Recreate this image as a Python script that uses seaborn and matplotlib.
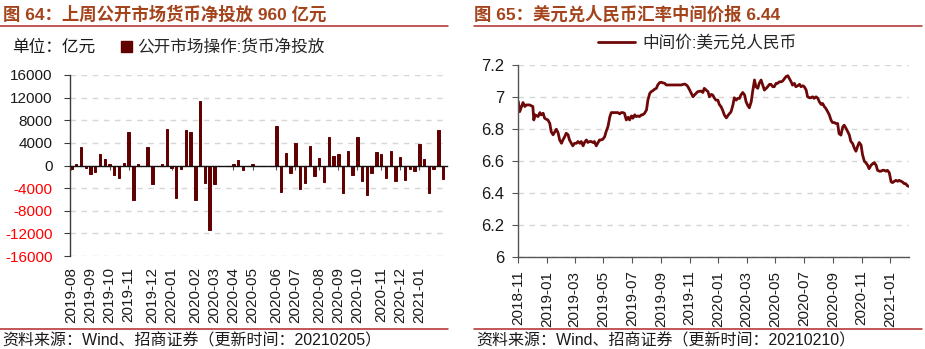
import matplotlib
matplotlib.use("Agg")
import matplotlib.pyplot as plt
import matplotlib.dates as mdates
from matplotlib.lines import Line2D
from matplotlib.patches import Patch
import pandas as pd
import seaborn as sns

sns.set_theme(style="white")
plt.rcParams["font.family"] = ["Liberation Sans", "Noto Sans CJK SC"]
plt.rcParams["axes.unicode_minus"] = False

# ---------------- data: weekly open-market net injection (亿元) ----------------
week_first = "2019-08-09"
week_last = "2021-02-05"
net_injection = [
    -700, 300, 3200, -500, -1500, -1200, 2050, 1100, 350, -1650,
    -2200, 450, 5900, -6050, 250, 0, 3200, -3200, 0, 250,
    6500, -500, -5700, -600, 6250, 5950, -6150, 11450, -3050, -11400,
    -3200, 0, 0, 0, 250, 900, -800, 0, 250, 0,
    0, 0, 0, 6900, -4650, 2200, -1350, 4050, -4100, -3050,
    3500, -1800, 1300, -2900, 5100, 1750, 2100, -4950, 2500, -1600,
    5000, -2700, -5300, -1300, 2400, 2100, -2200, 2500, -2700, 1500,
    -2500, -700, -1050, 3800, 1100, -4800, -600, 6250, -2450,
]
bar_month_labels = [
    "2019-08", "2019-09", "2019-10", "2019-11", "2019-12", "2020-01",
    "2020-02", "2020-03", "2020-04", "2020-05", "2020-06", "2020-07",
    "2020-08", "2020-09", "2020-10", "2020-11", "2020-12", "2021-01",
]
bar_yticks = [-16000, -12000, -8000, -4000, 0, 4000, 8000, 12000, 16000]

# ---------------- data: USD/CNY central parity ----------------
fx_dates = [
    "2018-11-01", "2018-11-04", "2018-11-08", "2018-11-11", "2018-11-15", "2018-11-18",
    "2018-11-25", "2018-12-02", "2018-12-04", "2018-12-07", "2018-12-13", "2018-12-17",
    "2018-12-20", "2018-12-24", "2018-12-27", "2018-12-31", "2019-01-03", "2019-01-07",
    "2019-01-10", "2019-01-14", "2019-01-18", "2019-01-21", "2019-01-25", "2019-01-28",
    "2019-02-01", "2019-02-04", "2019-02-08", "2019-02-11", "2019-02-15", "2019-02-18",
    "2019-02-22", "2019-02-25", "2019-03-01", "2019-03-05", "2019-03-08", "2019-03-12",
    "2019-03-15", "2019-03-19", "2019-03-22", "2019-03-26", "2019-03-29", "2019-04-02",
    "2019-04-05", "2019-04-09", "2019-04-12", "2019-04-16", "2019-04-19", "2019-04-23",
    "2019-04-26", "2019-04-30", "2019-05-04", "2019-05-07", "2019-05-11", "2019-05-15",
    "2019-05-18", "2019-05-25", "2019-06-01", "2019-06-05", "2019-06-08", "2019-06-12",
    "2019-06-15", "2019-06-19", "2019-06-23", "2019-06-26", "2019-06-30", "2019-07-03",
    "2019-07-07", "2019-07-10", "2019-07-14", "2019-07-17", "2019-07-21", "2019-07-24",
    "2019-07-28", "2019-08-01", "2019-08-04", "2019-08-08", "2019-08-11", "2019-08-15",
    "2019-08-18", "2019-08-22", "2019-08-25", "2019-08-29", "2019-09-01", "2019-09-09",
    "2019-09-12", "2019-09-23", "2019-10-03", "2019-10-14", "2019-10-21", "2019-10-25",
    "2019-10-28", "2019-11-01", "2019-11-08", "2019-11-11", "2019-11-18", "2019-11-25",
    "2019-11-29", "2019-12-02", "2019-12-06", "2019-12-10", "2019-12-13", "2019-12-17",
    "2019-12-20", "2019-12-24", "2019-12-27", "2019-12-31", "2020-01-03", "2020-01-07",
    "2020-01-10", "2020-01-14", "2020-01-18", "2020-01-21", "2020-01-25", "2020-01-28",
    "2020-02-01", "2020-02-04", "2020-02-08", "2020-02-11", "2020-02-15", "2020-02-18",
    "2020-02-22", "2020-02-26", "2020-02-29", "2020-03-04", "2020-03-07", "2020-03-11",
    "2020-03-14", "2020-03-18", "2020-03-21", "2020-03-25", "2020-03-28", "2020-04-01",
    "2020-04-05", "2020-04-08", "2020-04-12", "2020-04-15", "2020-04-19", "2020-04-22",
    "2020-04-26", "2020-04-29", "2020-05-03", "2020-05-06", "2020-05-10", "2020-05-14",
    "2020-05-17", "2020-05-21", "2020-05-24", "2020-05-28", "2020-05-31", "2020-06-04",
    "2020-06-07", "2020-06-11", "2020-06-14", "2020-06-18", "2020-06-22", "2020-06-25",
    "2020-06-29", "2020-07-02", "2020-07-06", "2020-07-09", "2020-07-13", "2020-07-16",
    "2020-07-20", "2020-07-23", "2020-07-27", "2020-07-31", "2020-08-03", "2020-08-07",
    "2020-08-10", "2020-08-14", "2020-08-17", "2020-08-21", "2020-08-24", "2020-08-28",
    "2020-08-31", "2020-09-04", "2020-09-07", "2020-09-11", "2020-09-14", "2020-09-18",
    "2020-09-22", "2020-09-25", "2020-09-29", "2020-10-02", "2020-10-06", "2020-10-09",
    "2020-10-13", "2020-10-17", "2020-10-20", "2020-10-24", "2020-10-27", "2020-10-31",
    "2020-11-03", "2020-11-07", "2020-11-10", "2020-11-14", "2020-11-17", "2020-11-21",
    "2020-11-25", "2020-11-28", "2020-12-02", "2020-12-05", "2020-12-09", "2020-12-12",
    "2020-12-16", "2020-12-19", "2020-12-23", "2020-12-26", "2020-12-30", "2021-01-03",
    "2021-01-06", "2021-01-10", "2021-01-13", "2021-01-17", "2021-01-20", "2021-01-24",
    "2021-01-27", "2021-01-31", "2021-02-03", "2021-02-07", "2021-02-10",
]
fx_mid = [
    6.971, 6.908, 6.940, 6.965, 6.940, 6.950,
    6.950, 6.940, 6.856, 6.888, 6.877, 6.902,
    6.888, 6.898, 6.867, 6.860, 6.856, 6.835,
    6.783, 6.763, 6.783, 6.798, 6.773, 6.731,
    6.710, 6.731, 6.752, 6.773, 6.763, 6.731,
    6.710, 6.694, 6.710, 6.710, 6.721, 6.710,
    6.721, 6.694, 6.715, 6.731, 6.715, 6.721,
    6.721, 6.715, 6.721, 6.694, 6.710, 6.731,
    6.731, 6.735, 6.752, 6.783, 6.815, 6.877,
    6.902, 6.902, 6.902, 6.894, 6.902, 6.902,
    6.898, 6.856, 6.873, 6.856, 6.881, 6.867,
    6.888, 6.877, 6.881, 6.877, 6.888, 6.888,
    6.898, 6.919, 6.981, 7.023, 7.033, 7.040,
    7.048, 7.054, 7.075, 7.090, 7.092, 7.085,
    7.075, 7.075, 7.075, 7.075, 7.081, 7.075,
    7.065, 7.043, 7.001, 7.012, 7.033, 7.037,
    7.028, 7.054, 7.043, 7.033, 7.001, 7.016,
    7.012, 6.991, 6.980, 6.980, 6.953, 6.938,
    6.918, 6.886, 6.869, 6.882, 6.897, 6.907,
    6.949, 6.995, 6.980, 6.991, 6.991, 7.012,
    7.028, 7.012, 6.970, 6.945, 6.932, 6.970,
    7.033, 7.106, 7.064, 7.054, 7.085, 7.106,
    7.070, 7.043, 7.054, 7.064, 7.079, 7.079,
    7.064, 7.064, 7.085, 7.085, 7.095, 7.095,
    7.100, 7.116, 7.127, 7.133, 7.116, 7.095,
    7.074, 7.085, 7.064, 7.070, 7.079, 7.064,
    7.070, 7.064, 7.043, 7.001, 6.995, 6.995,
    7.001, 6.991, 7.001, 6.991, 6.970, 6.953,
    6.959, 6.938, 6.928, 6.907, 6.890, 6.855,
    6.840, 6.840, 6.834, 6.834, 6.771, 6.761,
    6.813, 6.823, 6.803, 6.786, 6.761, 6.723,
    6.708, 6.677, 6.660, 6.694, 6.715, 6.698,
    6.639, 6.597, 6.589, 6.572, 6.551, 6.572,
    6.583, 6.589, 6.572, 6.541, 6.535, 6.535,
    6.541, 6.541, 6.535, 6.541, 6.526, 6.468,
    6.464, 6.472, 6.478, 6.472, 6.478, 6.472,
    6.468, 6.457, 6.457, 6.443, 6.440,
]
fx_yticks = [6.0, 6.2, 6.4, 6.6, 6.8, 7.0, 7.2]
fx_yticklabels = ["6", "6.2", "6.4", "6.6", "6.8", "7", "7.2"]

# ---------------- styling ----------------
W, H = 925, 349
BAR_COLOR = "#600000"
LINE_COLOR = "#6e0808"
TITLE_COLOR = "#a3441c"
RULE_COLOR = "#b02a2a"
GRID_COLOR = "#d6d6d6"
AXIS_COLOR = "#3a3a3a"
TXT = "#1a1a1a"
FS = 11


def fx(x):
    return x / W


def fy(y):
    return 1 - y / H


fig = plt.figure(figsize=(W / 100, H / 100), dpi=100)
fig.patch.set_facecolor("white")

# ================= left panel: net injection bars =================
weeks = pd.date_range(week_first, week_last, freq="W-FRI")
bars = pd.DataFrame({"week": weeks.strftime("%Y-%m-%d"), "net": net_injection})

axL = fig.add_axes([fx(69.5), fy(256), fx(447) - fx(69.5), fy(75) - fy(256)])
sns.barplot(data=bars, x="week", y="net", color=BAR_COLOR, saturation=1,
            width=0.5, edgecolor=BAR_COLOR, linewidth=0.7, ax=axL)
axL.set_xlim(-0.4, len(bars) - 0.2)
axL.set_ylim(-16000, 16000)
axL.set_yticks(bar_yticks)
axL.set_yticklabels([str(v) for v in bar_yticks], fontsize=FS)
for lab, v in zip(axL.get_yticklabels(), bar_yticks):
    lab.set_color("#ff0000" if v < 0 else TXT)
axL.set_xlabel("")
axL.set_ylabel("")
axL.set_axisbelow(True)
axL.yaxis.grid(True, linestyle=(0, (4, 4)), color=GRID_COLOR, linewidth=1)
axL.xaxis.grid(False)

# month positions = first week of each labelled month
month_of_week = list(weeks.strftime("%Y-%m"))
month_pos = [month_of_week.index(m) for m in bar_month_labels]

for s in ["top", "right"]:
    axL.spines[s].set_visible(False)
axL.spines["left"].set_color(AXIS_COLOR)
axL.spines["left"].set_linewidth(1)
axL.spines["bottom"].set_position(("data", 0))
axL.spines["bottom"].set_color("#111111")
axL.spines["bottom"].set_linewidth(1)
axL.set_xticks(month_pos)
axL.tick_params(axis="x", which="both", bottom=True, length=3, width=0.8,
                color="#555555", labelbottom=False, direction="out")
axL.tick_params(axis="y", left=True, length=4, width=0.8, color=AXIS_COLOR, pad=8)

secL = axL.secondary_xaxis("bottom")
secL.set_xticks(month_pos)
secL.set_xticklabels(bar_month_labels, rotation=90, fontsize=FS, color=TXT)
secL.tick_params(length=0, pad=8)
secL.spines["bottom"].set_visible(False)

# ================= right panel: USD/CNY line =================
fx_df = pd.DataFrame({"date": pd.to_datetime(fx_dates), "mid": fx_mid})
axR = fig.add_axes([fx(518.3), fy(256.7), fx(909) - fx(518.3), fy(65) - fy(256.7)])
sns.lineplot(data=fx_df, x="date", y="mid", color=LINE_COLOR, linewidth=2.0, ax=axR)
axR.set_xlim(pd.Timestamp("2018-11-01"), pd.Timestamp("2021-02-10"))
axR.set_ylim(6.0, 7.2)
axR.set_yticks(fx_yticks)
axR.set_yticklabels(fx_yticklabels, fontsize=12, color=TXT)
axR.xaxis.set_major_locator(mdates.MonthLocator(bymonth=[1, 3, 5, 7, 9, 11]))
axR.xaxis.set_major_formatter(mdates.DateFormatter("%Y-%m"))
plt.setp(axR.get_xticklabels(), rotation=90, fontsize=FS, color=TXT)
axR.set_xlabel("")
axR.set_ylabel("")
axR.set_axisbelow(True)
axR.yaxis.grid(True, linestyle=(0, (4, 4)), color=GRID_COLOR, linewidth=1)
axR.xaxis.grid(False)
for s in ["top", "right"]:
    axR.spines[s].set_visible(False)
for s in ["left", "bottom"]:
    axR.spines[s].set_color("#555555")
    axR.spines[s].set_linewidth(1)
axR.tick_params(axis="x", bottom=True, length=4, width=0.8, color="#555555", pad=6)
axR.tick_params(axis="y", left=True, length=4, width=0.8, color="#555555", pad=6)

# ================= titles, rules, notes, legends =================
fig.text(fx(3), fy(14), "图 64：上周公开市场货币净投放 960 亿元", fontsize=12.5,
         fontweight="bold", color=TITLE_COLOR, va="center", ha="left")
fig.text(fx(474), fy(14), "图 65：美元兑人民币汇率中间价报 6.44", fontsize=12.5,
         fontweight="bold", color=TITLE_COLOR, va="center", ha="left")

for x0, x1 in [(0, 448), (474, 922)]:
    for yy in (26, 329):
        fig.add_artist(Line2D([fx(x0), fx(x1)], [fy(yy), fy(yy)],
                              color=RULE_COLOR, linewidth=1.1))

fig.text(fx(2), fy(341), "资料来源：Wind、招商证券（更新时间：20210205）",
         fontsize=11.5, color=TXT, va="center", ha="left")
fig.text(fx(476), fy(341), "资料来源：Wind、招商证券（更新时间：20210210）",
         fontsize=11.5, color=TXT, va="center", ha="left")

fig.text(fx(12), fy(47), "单位：亿元", fontsize=12, color=TXT, va="center", ha="left")

fig.legend(handles=[Patch(facecolor=BAR_COLOR, edgecolor=BAR_COLOR)],
           labels=["公开市场操作:货币净投放"], loc="center left",
           bbox_to_anchor=(fx(121), fy(47)), frameon=False, fontsize=12,
           handlelength=0.65, handleheight=0.65, handletextpad=0.3,
           borderaxespad=0, borderpad=0)
fig.legend(handles=[Line2D([], [], color=LINE_COLOR, linewidth=2.0)],
           labels=["中间价:美元兑人民币"], loc="center left",
           bbox_to_anchor=(fx(598), fy(43)), frameon=False, fontsize=12,
           handlelength=2.2, handletextpad=0.45, borderaxespad=0, borderpad=0)

fig.savefig("out.png", dpi=100, facecolor="white")
